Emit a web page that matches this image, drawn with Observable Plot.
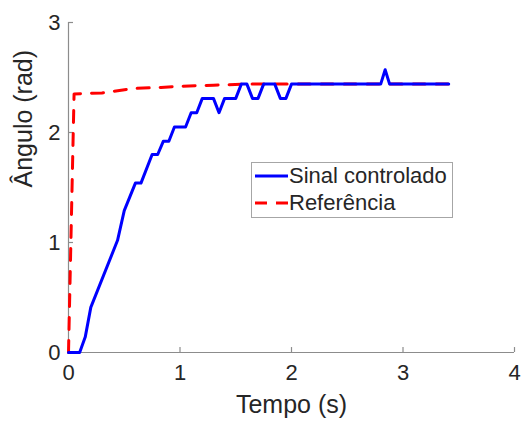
<!DOCTYPE html>
<html>
<head>
<meta charset="utf-8">
<script src="https://cdn.jsdelivr.net/npm/d3@7"></script>
<script src="https://cdn.jsdelivr.net/npm/@observablehq/plot@0.6"></script>
<style>
  html, body { margin: 0; padding: 0; background: #fff; }
  #wrap { position: relative; width: 522px; height: 423px; font-family: "Liberation Sans", Arial, sans-serif; }
  #legend { position: absolute; left: 251px; top: 162px; width: 202px; height: 56px; border: 1px solid #a6a6a6; background: #fff; box-sizing: border-box; }
  .row { position: absolute; left: 0; height: 26px; display: flex; align-items: center; font-size: 22px; color: #262626; white-space: nowrap; }
  .row svg { margin-left: 3px; margin-right: 1px; }
</style>
</head>
<body>
<div id="wrap"></div>
<script>
// Controlled signal (blue)
const sinalT = [0, 0.10, 0.15, 0.20, 0.44, 0.50, 0.60, 0.65, 0.75, 0.80, 0.85, 0.90, 0.95, 1.05, 1.10, 1.15, 1.20, 1.30, 1.35, 1.40, 1.50, 1.55, 1.60, 1.65, 1.70, 1.75, 1.85, 1.90, 1.95, 2.00, 2.80, 2.84, 2.88, 3.41];
const sinalY = [0, 0, 0.14, 0.41, 1.02, 1.29, 1.54, 1.54, 1.80, 1.80, 1.92, 1.92, 2.05, 2.05, 2.18, 2.18, 2.31, 2.31, 2.18, 2.31, 2.31, 2.44, 2.44, 2.31, 2.31, 2.44, 2.44, 2.31, 2.31, 2.44, 2.44, 2.57, 2.44, 2.44];
// Reference (red dashed)
const refT = [0, 0.05, 0.30, 0.58, 0.83, 1.00, 1.30, 1.60, 3.41];
const refY = [0, 2.35, 2.36, 2.40, 2.41, 2.42, 2.43, 2.44, 2.44];
// Ticks and labels
const xTicks = [0, 1, 2, 3, 4];
const yTicks = [0, 1, 2, 3];
const seriesNames = ["Sinal controlado", "Referência"];
const xLabel = "Tempo (s)";
const yLabel = "Ângulo (rad)";

const sinal = sinalT.map((t, i) => ({t, y: sinalY[i]}));
const ref = refT.map((t, i) => ({t, y: refY[i]}));

const axisColor = "#8c8c8c";
const textColor = "#262626";

const plot = Plot.plot({
  width: 522,
  height: 423,
  marginLeft: 68,
  marginRight: 8,
  marginTop: 22,
  marginBottom: 71,
  style: {fontFamily: "'Liberation Sans', Arial, sans-serif", background: "#fff", color: textColor},
  x: {domain: [0, 4]},
  y: {domain: [0, 3]},
  marks: [
    Plot.ruleY([0], {stroke: axisColor, strokeWidth: 1.2}),
    Plot.ruleX([0], {stroke: axisColor, strokeWidth: 1.2}),
    Plot.ruleX(xTicks, {x: d => d, y1: 0, y2: 0.045, stroke: axisColor, strokeWidth: 1.2}),
    Plot.ruleY(yTicks, {y: d => d, x1: 0, x2: 0.045, stroke: axisColor, strokeWidth: 1.2}),
    Plot.axisX(xTicks, {tickSize: 0, tickPadding: 12, fontSize: 22, fill: textColor, label: null, tickFormat: d3.format("d")}),
    Plot.axisY(yTicks, {tickSize: 0, tickPadding: 8, fontSize: 22, fill: textColor, label: null, tickFormat: d3.format("d")}),
    Plot.line(ref, {x: "t", y: "y", stroke: "#ff0000", strokeWidth: 3, strokeDasharray: "12,11"}),
    Plot.line(sinal, {x: "t", y: "y", stroke: "#0000ff", strokeWidth: 3}),
    Plot.text([xLabel], {frameAnchor: "bottom", dy: 60, text: d => d, fontSize: 25, fill: textColor}),
    Plot.text([yLabel], {frameAnchor: "left", dx: -45, rotate: -90, text: d => d, fontSize: 25, fill: textColor})
  ]
});
const wrap = document.getElementById("wrap");
wrap.appendChild(plot);

const leg = document.createElement("div");
leg.id = "legend";
leg.innerHTML = `
  <div class="row" style="top:0px"><svg width="33" height="6"><line x1="0" y1="3" x2="33" y2="3" stroke="#0000ff" stroke-width="3"/></svg>${seriesNames[0]}</div>
  <div class="row" style="top:27px"><svg width="33" height="6"><line x1="0" y1="3" x2="33" y2="3" stroke="#ff0000" stroke-width="3" stroke-dasharray="12,9"/></svg>${seriesNames[1]}</div>`;
wrap.appendChild(leg);
</script>
</body>
</html>
